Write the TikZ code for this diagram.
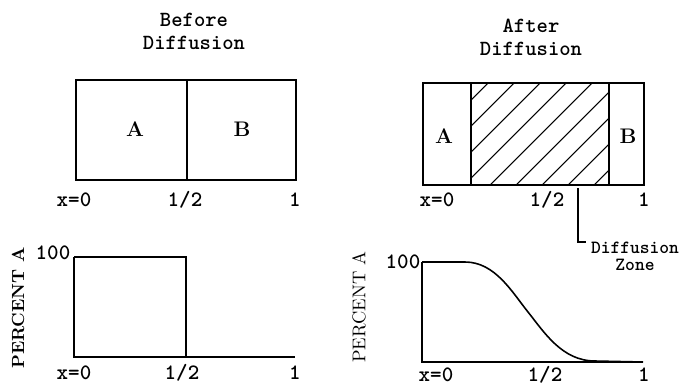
\documentclass[tikz,border=0pt]{standalone}
\usepackage{amsmath}
\usepackage{fontspec}

\newcommand\ttlfont{\ttfamily\bfseries\fontsize{12.3}{13}\selectfont}
\newcommand\lblfont{\ttfamily\bfseries\fontsize{12.5}{13}\selectfont}
\newcommand\zonefont{\ttfamily\bfseries\fontsize{10.6}{9.5}\selectfont}

\begin{document}
\begin{tikzpicture}[x=0.02cm,y=-0.02cm,
        line width=0.9pt,
        ttl/.style={font=\ttlfont, align=center, inner sep=0pt},
        lbl/.style={font=\lblfont, inner sep=0pt},
        part/.style={font=\bfseries\fontsize{12}{13}\selectfont, inner sep=0pt},
        yax/.style={font=\fontsize{10.5}{12}\selectfont, rotate=90, inner sep=0pt},
        hatch/.style={line width=0.6pt},
        ]

        \useasboundingbox (0,0) rectangle (682,385);

        % titles
        \node (tb) [ttl] at (194,31) {Before\\Diffusion};
        \node (ta) [ttl] at (531,37) {After\\Diffusion};

        % before: the two blocks
        \draw (76,80) rectangle (296,180);
        \draw (187,80) -- (187,180);
        \node (a1) [part] at (135,129) {A};
        \node (b1) [part] at (242,129) {B};

        \node (x01) [lbl] at (74,200) {x=0};
        \node (h1) [lbl] at (185,200) {1/2};
        \node (e1) [lbl] at (295,200) {1};

        % after: blocks with the zone
        \begin{scope}
            \clip (471,83) rectangle (609,185);
            \foreach \k in {0,...,9}
                \draw [hatch] (386+26*\k,185) -- ++(102,-102);
        \end{scope}
        \draw (423,83) rectangle (644,185);
        \draw (471,83) -- (471,185) (609,83) -- (609,185);
        \node (a2) [part] at (444,136) {A};
        \node (b2) [part] at (628,136) {B};

        \node (x02) [lbl] at (437,200) {x=0};
        \node (h2) [lbl] at (547,200) {1/2};
        \node (e2) [lbl] at (644,200) {1};

        \node (zone) [ttl, font=\zonefont] at (635,256) {Diffusion\\Zone};
        \coordinate (dz) at (578,188);
        \coordinate (zk) at (586,242);
        \draw [line width=0.7pt] (dz) |- (zk);

        % before: profile
        \draw (74,257) -- (74,357) -- (295,357);
        \draw (74,257) -- (186,257) -- (186,357);
        \node (p1) [yax, font=\bfseries\fontsize{10}{12}\selectfont] at (18,308) {PERCENT A};
        \node (c1) [lbl] at (53,253) {100};
        \node (x03) [lbl] at (74,373) {x=0};
        \node (h3) [lbl] at (182,373) {1/2};
        \node (e3) [lbl] at (295,373) {1};

        % after: profile
        \draw (422,262) -- (422,362) -- (643,362);
        \draw (422,262) -- (465,262)
            .. controls (495,262) and (512,292) .. (528,312)
            .. controls (544,332) and (562,361) .. (595,361) -- (643,362);
        \node (p2) [yax] at (359,307) {PERCENT A};
        \node (c2) [lbl] at (403,262) {100};
        \node (x04) [lbl] at (436,375) {x=0};
        \node (h4) [lbl] at (545,375) {1/2};
        \node (e4) [lbl] at (644,375) {1};
\end{tikzpicture}
\end{document}
